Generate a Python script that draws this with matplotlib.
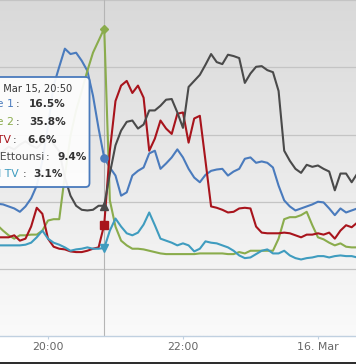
import numpy as np
import pandas as pd
import matplotlib
matplotlib.use("Agg")
import matplotlib.pyplot as plt
import matplotlib.dates as mdates
from matplotlib.colors import LinearSegmentedColormap
from matplotlib.patches import FancyBboxPatch, Rectangle

# audience share (%) every 5 minutes, 15 Mar 19:15 -> 16 Mar 00:35
times = pd.date_range("2015-03-15 19:15", periods=65, freq="5min")

names = ["Tunisienne 1", "Tunisienne 2", "Nessma TV", "Hiwar Ettounsi", "Hannibal TV"]
colors = ["#4a7bbd", "#8aac4c", "#a8141c", "#4a4a4a", "#3f9cbf"]
markers = ["o", "D", "s", "^", "v"]

tunisienne1 = [9.7, 9.6, 9.3, 9.0, 8.5, 9.3, 10.5, 12.4, 16.1, 21.3,
               27.3, 30.1, 32.8, 32.0, 32.2, 31.0, 29.5, 25.8, 20.9, 16.5,
               15.1, 13.9, 10.9, 11.4, 13.9, 14.6, 15.1, 17.2, 17.6, 14.9,
               15.7, 16.6, 17.8, 16.6, 14.9, 13.6, 12.9, 14.0, 14.6, 14.8,
               14.9, 13.9, 14.5, 14.9, 16.4, 16.6, 15.8, 16.0, 15.8, 15.1,
               12.4, 10.2, 9.3, 8.7, 9.0, 9.3, 9.6, 10.0, 9.9, 9.0,
               8.0, 9.0, 8.4, 8.7, 9.0]
tunisienne2 = [6.5, 5.7, 5.0, 4.5, 5.0, 5.0, 5.1, 5.1, 5.7, 7.2,
               7.4, 7.4, 13.9, 19.8, 23.6, 26.5, 29.5, 32.2, 34.0, 35.8,
               10.2, 6.3, 4.2, 3.5, 3.0, 3.0, 2.9, 2.7, 2.5, 2.3,
               2.2, 2.2, 2.2, 2.2, 2.2, 2.2, 2.3, 2.3, 2.3, 2.3,
               2.3, 2.2, 2.2, 2.5, 2.3, 2.7, 2.7, 2.7, 2.7, 2.7,
               4.5, 7.4, 7.7, 7.7, 8.0, 8.5, 6.5, 4.7, 4.4, 3.9,
               3.5, 3.8, 3.3, 3.2, 3.2]
nessma = [4.7, 4.7, 4.7, 5.0, 4.2, 4.5, 6.3, 9.1, 8.2, 4.5,
          3.3, 3.0, 2.9, 2.6, 2.5, 2.5, 2.7, 3.0, 3.2, 6.6,
          17.6, 25.0, 27.3, 28.0, 26.2, 27.3, 25.5, 17.6, 19.4, 22.1,
          20.9, 20.1, 23.1, 23.3, 18.8, 22.4, 22.8, 16.1, 9.3, 9.1,
          8.8, 8.4, 8.5, 9.0, 9.1, 9.0, 6.3, 5.4, 5.3, 5.3,
          5.3, 5.4, 5.3, 5.0, 4.7, 5.1, 5.1, 5.3, 5.1, 5.4,
          4.5, 5.7, 6.5, 6.2, 6.9]
ettounsi = [17.0, 17.5, 18.2, 17.8, 18.5, 19.0, 18.4, 18.0, 18.8, 19.5,
            18.6, 17.5, 13.6, 10.9, 9.4, 8.8, 8.7, 8.8, 9.4, 9.4,
            14.2, 18.4, 20.6, 21.9, 22.1, 20.9, 21.5, 23.6, 23.6, 24.3,
            25.2, 25.3, 23.3, 21.0, 27.1, 28.0, 28.9, 30.4, 32.0, 30.8,
            30.5, 31.9, 31.7, 31.4, 27.7, 29.1, 30.1, 30.2, 29.6, 29.3,
            26.5, 17.6, 16.1, 14.9, 14.3, 15.5, 15.2, 15.4, 14.9, 14.5,
            11.7, 14.2, 14.2, 12.9, 14.2]
hannibal = [3.5, 3.5, 3.5, 3.5, 3.5, 3.6, 3.9, 4.7, 5.7, 4.5,
            3.9, 3.6, 3.2, 2.7, 2.9, 3.0, 3.2, 3.0, 3.0, 3.1,
            5.7, 7.5, 6.3, 5.3, 5.0, 5.4, 6.6, 8.4, 6.5, 4.5,
            4.2, 3.9, 3.5, 3.8, 3.5, 2.6, 3.0, 4.1, 3.9, 3.8,
            3.5, 3.2, 2.7, 2.0, 1.6, 1.7, 2.2, 2.7, 2.9, 2.3,
            2.3, 2.7, 2.0, 1.6, 1.4, 1.6, 1.7, 1.9, 1.9, 1.7,
            1.9, 2.0, 1.9, 1.9, 1.7]
series = [tunisienne1, tunisienne2, nessma, ettounsi, hannibal]

hover = pd.Timestamp("2015-03-15 20:50")
hover_idx = list(times).index(hover)
tick_times = [pd.Timestamp("2015-03-15 20:00"), pd.Timestamp("2015-03-15 22:00"),
              pd.Timestamp("2015-03-16 00:00")]
tick_labels = ["20:00", "22:00", "16. Mar"]

W, H = 356, 364
fig = plt.figure(figsize=(W / 100, H / 100), dpi=100)
fig.patch.set_facecolor("white")
ax = fig.add_axes([0, 28 / H, 1, 1 - 28 / H])

x0 = mdates.date2num(pd.Timestamp("2015-03-15 19:17:20"))
x1 = mdates.date2num(pd.Timestamp("2015-03-16 00:33:50"))
ax.set_xlim(x0, x1)
ax.set_ylim(-10, 40.05)

# plot background gradient
grad = LinearSegmentedColormap.from_list("bg", ["#fafafa", "#d9d9d9"])
ax.imshow(np.linspace(0, 1, 256).reshape(-1, 1), cmap=grad, origin="lower",
          extent=[x0, x1, -10, 40.05], aspect="auto", zorder=0)

ax.set_yticks([0, 10, 20, 30, 40])
ax.yaxis.grid(True, color="#c4c4c4", lw=0.9)
ax.tick_params(axis="y", left=False, labelleft=False)
ax.set_axisbelow(True)
for s in ["top", "left", "right"]:
    ax.spines[s].set_visible(False)
ax.spines["bottom"].set_color("#c0d0e0")
ax.spines["bottom"].set_linewidth(1.0)

ax.set_xticks([mdates.date2num(t) for t in tick_times])
ax.set_xticklabels(tick_labels)
ax.tick_params(axis="x", direction="out", length=2.5, width=0.8, color="#c0d0e0",
               labelcolor="#666666", labelsize=7.9, pad=1.5)

ax.axvline(mdates.date2num(hover), color="#b5b5b5", lw=0.8, zorder=1)

for vals, c, m in zip(series, colors, markers):
    ax.plot(times, vals, color=c, lw=1.5, zorder=3, solid_joinstyle="round")
    ax.plot([times[hover_idx]], [vals[hover_idx]], marker=m, color=c,
            markersize=5.2 if m != "D" else 4.0, zorder=4, linestyle="none")

# overlay in pixel coordinates for the tooltip and page edge
ov = fig.add_axes([0, 0, 1, 1], zorder=5)
ov.set_xlim(0, W)
ov.set_ylim(H, 0)
ov.axis("off")
ov.patch.set_alpha(0)

ov.add_patch(FancyBboxPatch((-30, 78), 120, 110, boxstyle="round,pad=0,rounding_size=4",
                            fc="black", ec="none", alpha=0.08))
ov.add_patch(FancyBboxPatch((-30, 77), 119.5, 110, boxstyle="round,pad=0,rounding_size=4",
                            fc=(1, 1, 1, 0.93), ec=colors[0], lw=1.3))

ov.text(72, 89, "Sunday, Mar 15, 20:50", ha="right", va="center",
        fontsize=7.1, color="#333333")
rows_y = [104, 122, 140, 157, 174]
name_end = [14, 14, 11, 44, 19]
colon_x = [18, 18, 15, 48, 25]
value_x = [29, 29, 27, 57, 33]
for i, vals in enumerate(series):
    ov.text(name_end[i], rows_y[i], names[i], ha="right", va="center",
            fontsize=7.8, color=colors[i])
    ov.text(colon_x[i], rows_y[i], ":", ha="center", va="center",
            fontsize=7.6, color="#333333")
    ov.text(value_x[i], rows_y[i], f"{vals[hover_idx]:.1f}%", ha="left", va="center",
            fontsize=7.6, color="#333333", fontweight="bold")

ov.add_patch(Rectangle((0, 361.5), W, 3, fc="#2e2e2e", ec="none"))

fig.savefig("out.png", dpi=100)
